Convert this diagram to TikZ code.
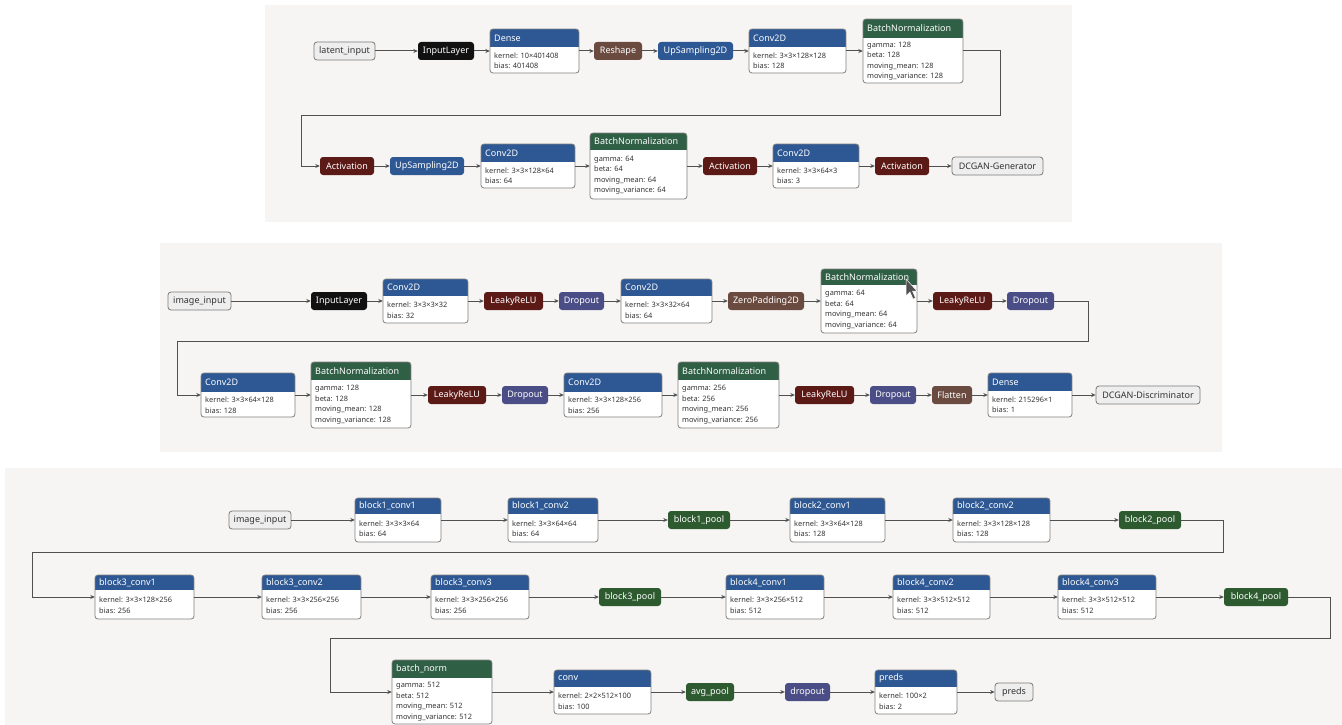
\documentclass[tikz,border=0pt]{standalone}
\usepackage{fontspec}
\setmainfont{Noto Sans}
\usetikzlibrary{arrows.meta,fit}
\definecolor{bluec}{HTML}{2E5894}
\definecolor{greenc}{HTML}{2F5F45}
\definecolor{poolc}{HTML}{2E5A30}
\definecolor{actc}{HTML}{5C1A16}
\definecolor{brownc}{HTML}{6B4A40}
\definecolor{dropc}{HTML}{4B4E86}
\definecolor{inlc}{HTML}{111111}
\definecolor{iofill}{HTML}{EEEEEE}
\definecolor{iodraw}{HTML}{7A7A7A}
\definecolor{bgc}{HTML}{F6F5F3}
\definecolor{linec}{HTML}{505050}
\definecolor{bodyc}{HTML}{333333}
\definecolor{cardc}{HTML}{808080}
\newcommand\tfnt{\fontsize{9}{10.8}\selectfont}
\newcommand\bfnt{\fontsize{7.4}{10.5}\selectfont}
\tikzset{
  arr/.style={draw=linec, line width=1pt, -{Stealth[length=4.5pt,width=4pt]}},
  pill/.style={rounded corners=3pt, minimum height=18pt, inner sep=0pt, text=white, font=\tfnt},
  io/.style={pill, fill=iofill, draw=iodraw, line width=0.8pt, text=bodyc},
  inl/.style={pill, fill=inlc},
  act/.style={pill, fill=actc},
  brn/.style={pill, fill=brownc},
  blu/.style={pill, fill=bluec},
  drp/.style={pill, fill=dropc},
  pool/.style={pill, fill=poolc},
  ttl/.style={inner sep=0pt, text=white, font=\tfnt},
  bdy/.style={inner sep=0pt, text=bodyc, font=\bfnt, align=left},
  cardline/.style={draw=cardc, line width=0.8pt},
  panel/.style={fill=bgc}
}
% name, x1, y1, x2, y2, header bottom, colour, title, body
\newcommand\nncard[9]{%
  \node[fit={(#2,#3) (#4,#5)}, inner sep=0pt, fill=white, rounded corners=3pt] (#1) {};
  \begin{scope}
    \clip[rounded corners=3pt] (#2,#3) rectangle (#4,#5);
    \fill[#7] (#2,#3) rectangle (#4,#6);
  \end{scope}
  \draw[cardline, rounded corners=3pt] (#2,#3) rectangle (#4,#5);
  \node[ttl, anchor=west] (#1-t) at ({#2+4},{(#3+#6)/2}) {#8};
  \node[bdy, anchor=west] (#1-b) at ({#2+4},{(#6+#5)/2+0.5}) {#9};
}
\begin{document}
\begin{tikzpicture}[x=1pt,y=-1pt]
\useasboundingbox (0,0) rectangle (1342,725);
\fill[white] (0,0) rectangle (1342,725);
% panels
\fill[panel] (265,5) rectangle (1072,222);
\fill[panel] (160,243) rectangle (1222,452);
\fill[panel] (5,468) rectangle (1342,725);

% ================= Panel 1: DCGAN Generator =================
\node[io, minimum width=61pt] (g0) at (344.5,51) {latent\_input};
\node[inl, minimum width=56pt] (g1) at (446,51) {InputLayer};
\nncard{g2}{490}{29}{579}{73}{47}{bluec}{Dense}{kernel: 10×401408\\bias: 401408}
\node[brn, minimum width=48pt] (g3) at (618,51) {Reshape};
\node[blu, minimum width=75pt] (g4) at (695.5,51) {UpSampling2D};
\nncard{g5}{749}{29}{846}{73}{47}{bluec}{Conv2D}{kernel: 3×3×128×128\\bias: 128}
\nncard{g6}{863}{19}{963}{83}{38}{greenc}{BatchNormalization}{gamma: 128\\beta: 128\\moving\_mean: 128\\moving\_variance: 128}

\node[act, minimum width=54pt] (g7) at (347,166) {Activation};
\node[blu, minimum width=74pt] (g8) at (427,166) {UpSampling2D};
\nncard{g9}{481}{144}{575}{188}{162}{bluec}{Conv2D}{kernel: 3×3×128×64\\bias: 64}
\nncard{g10}{590}{133}{687}{199}{150}{greenc}{BatchNormalization}{gamma: 64\\beta: 64\\moving\_mean: 64\\moving\_variance: 64}
\node[act, minimum width=54pt] (g11) at (730,166) {Activation};
\nncard{g12}{773}{144}{859}{188}{162}{bluec}{Conv2D}{kernel: 3×3×64×3\\bias: 3}
\node[act, minimum width=54pt] (g13) at (902,166) {Activation};
\node[io, minimum width=91pt] (g14) at (997.5,166) {DCGAN-Generator};

\coordinate (gc1) at (1000,115);
\coordinate (gc2) at (301,166);
\draw[arr] (g0) -- (g1);
\draw[arr] (g1) -- (g2);
\draw[arr] (g2) -- (g3);
\draw[arr] (g3) -- (g4);
\draw[arr] (g4) -- (g5);
\draw[arr] (g5) -- (g6);
\draw[arr] (g6.east) -| (gc1) -| (gc2) -- (g7.west);
\draw[arr] (g7) -- (g8);
\draw[arr] (g8) -- (g9);
\draw[arr] (g9) -- (g10);
\draw[arr] (g10) -- (g11);
\draw[arr] (g11) -- (g12);
\draw[arr] (g12) -- (g13);
\draw[arr] (g13) -- (g14);

% ================= Panel 2: DCGAN Discriminator =================
\node[io, minimum width=63pt] (d0) at (199.5,301) {image\_input};
\node[inl, minimum width=56pt] (d1) at (339,301) {InputLayer};
\nncard{d2}{383}{279}{468}{323}{296}{bluec}{Conv2D}{kernel: 3×3×3×32\\bias: 32}
\node[act, minimum width=59pt] (d3) at (513.5,301) {LeakyReLU};
\node[drp, minimum width=45pt] (d4) at (581.5,301) {Dropout};
\nncard{d5}{621}{279}{712}{323}{296}{bluec}{Conv2D}{kernel: 3×3×32×64\\bias: 64}
\node[brn, minimum width=76pt] (d6) at (766,301) {ZeroPadding2D};
\nncard{d7}{821}{269}{917}{333}{285}{greenc}{BatchNormalization}{gamma: 64\\beta: 64\\moving\_mean: 64\\moving\_variance: 64}
\node[act, minimum width=59pt] (d8) at (962.5,301) {LeakyReLU};
\node[drp, minimum width=47pt] (d9) at (1030.5,301) {Dropout};
% mouse cursor (screenshot)
\filldraw[fill=linec, draw=white, line width=0.5pt] (906,279) -- (906,296) -- (910,292) -- (913,299) -- (915.5,298) -- (912.5,291) -- (917,291) -- cycle;

\nncard{d10}{201}{373}{295}{417}{392}{bluec}{Conv2D}{kernel: 3×3×64×128\\bias: 128}
\nncard{d11}{311}{362}{411}{428}{380}{greenc}{BatchNormalization}{gamma: 128\\beta: 128\\moving\_mean: 128\\moving\_variance: 128}
\node[act, minimum width=58pt] (d12) at (457,395) {LeakyReLU};
\node[drp, minimum width=46pt] (d13) at (525,395) {Dropout};
\nncard{d14}{564}{373}{662}{417}{392}{bluec}{Conv2D}{kernel: 3×3×128×256\\bias: 256}
\nncard{d15}{678}{362}{779}{428}{380}{greenc}{BatchNormalization}{gamma: 256\\beta: 256\\moving\_mean: 256\\moving\_variance: 256}
\node[act, minimum width=59pt] (d16) at (824.5,395) {LeakyReLU};
\node[drp, minimum width=46pt] (d17) at (893,395) {Dropout};
\node[brn, minimum width=40pt] (d18) at (952,395) {Flatten};
\nncard{d19}{988}{373}{1072}{417}{391}{bluec}{Dense}{kernel: 215296×1\\bias: 1}
\node[io, minimum width=104pt] (d20) at (1148,395) {DCGAN-Discriminator};

\coordinate (dc1) at (1088,341);
\coordinate (dc2) at (177,395);
\draw[arr] (d0) -- (d1);
\draw[arr] (d1) -- (d2);
\draw[arr] (d2) -- (d3);
\draw[arr] (d3) -- (d4);
\draw[arr] (d4) -- (d5);
\draw[arr] (d5) -- (d6);
\draw[arr] (d6) -- (d7);
\draw[arr] (d7) -- (d8);
\draw[arr] (d8) -- (d9);
\draw[arr] (d9.east) -| (dc1) -| (dc2) -- (d10.west);
\draw[arr] (d10) -- (d11);
\draw[arr] (d11) -- (d12);
\draw[arr] (d12) -- (d13);
\draw[arr] (d13) -- (d14);
\draw[arr] (d14) -- (d15);
\draw[arr] (d15) -- (d16);
\draw[arr] (d16) -- (d17);
\draw[arr] (d17) -- (d18);
\draw[arr] (d18) -- (d19);
\draw[arr] (d19) -- (d20);

% ================= Panel 3: VGG-like =================
\node[io, minimum width=62pt] (v0) at (260,520) {image\_input};
\nncard{v1}{355}{498}{441}{542}{514}{bluec}{block1\_conv1}{kernel: 3×3×3×64\\bias: 64}
\nncard{v2}{508}{498}{598}{542}{514}{bluec}{block1\_conv2}{kernel: 3×3×64×64\\bias: 64}
\node[pool, minimum width=62pt] (v3) at (699,520) {block1\_pool};
\nncard{v4}{790}{498}{885}{542}{514}{bluec}{block2\_conv1}{kernel: 3×3×64×128\\bias: 128}
\nncard{v5}{953}{498}{1050}{542}{514}{bluec}{block2\_conv2}{kernel: 3×3×128×128\\bias: 128}
\node[pool, minimum width=62pt] (v6) at (1150,520) {block2\_pool};

\nncard{v7}{95}{575}{194}{619}{590}{bluec}{block3\_conv1}{kernel: 3×3×128×256\\bias: 256}
\nncard{v8}{262}{575}{361}{619}{590}{bluec}{block3\_conv2}{kernel: 3×3×256×256\\bias: 256}
\nncard{v9}{431}{575}{529}{619}{590}{bluec}{block3\_conv3}{kernel: 3×3×256×256\\bias: 256}
\node[pool, minimum width=62pt] (v10) at (630,597) {block3\_pool};
\nncard{v11}{726}{575}{824}{619}{590}{bluec}{block4\_conv1}{kernel: 3×3×256×512\\bias: 512}
\nncard{v12}{893}{575}{990}{619}{590}{bluec}{block4\_conv2}{kernel: 3×3×512×512\\bias: 512}
\nncard{v13}{1058}{575}{1156}{619}{590}{bluec}{block4\_conv3}{kernel: 3×3×512×512\\bias: 512}
\node[pool, minimum width=64pt] (v14) at (1256,597) {block4\_pool};

\nncard{v15}{392}{660}{492}{724}{678}{greenc}{batch\_norm}{gamma: 512\\beta: 512\\moving\_mean: 512\\moving\_variance: 512}
\nncard{v16}{554}{670}{651}{714}{687}{bluec}{conv}{kernel: 2×2×512×100\\bias: 100}
\node[pool, minimum width=48pt] (v17) at (710,692) {avg\_pool};
\node[drp, minimum width=45pt] (v18) at (807.5,692) {dropout};
\nncard{v19}{875}{670}{957}{714}{687}{bluec}{preds}{kernel: 100×2\\bias: 2}
\node[io, minimum width=38pt] (v20) at (1014,692) {preds};

\coordinate (vc1) at (1223,552);
\coordinate (vc2) at (32,597);
\coordinate (vc3) at (1330,638);
\coordinate (vc4) at (330,692);
\draw[arr] (v0) -- (v1);
\draw[arr] (v1) -- (v2);
\draw[arr] (v2) -- (v3);
\draw[arr] (v3) -- (v4);
\draw[arr] (v4) -- (v5);
\draw[arr] (v5) -- (v6);
\draw[arr] (v6.east) -| (vc1) -| (vc2) -- (v7.west);
\draw[arr] (v7) -- (v8);
\draw[arr] (v8) -- (v9);
\draw[arr] (v9) -- (v10);
\draw[arr] (v10) -- (v11);
\draw[arr] (v11) -- (v12);
\draw[arr] (v12) -- (v13);
\draw[arr] (v13) -- (v14);
\draw[arr] (v14.east) -| (vc3) -| (vc4) -- (v15.west);
\draw[arr] (v15) -- (v16);
\draw[arr] (v16) -- (v17);
\draw[arr] (v17) -- (v18);
\draw[arr] (v18) -- (v19);
\draw[arr] (v19) -- (v20);
\end{tikzpicture}
\end{document}
